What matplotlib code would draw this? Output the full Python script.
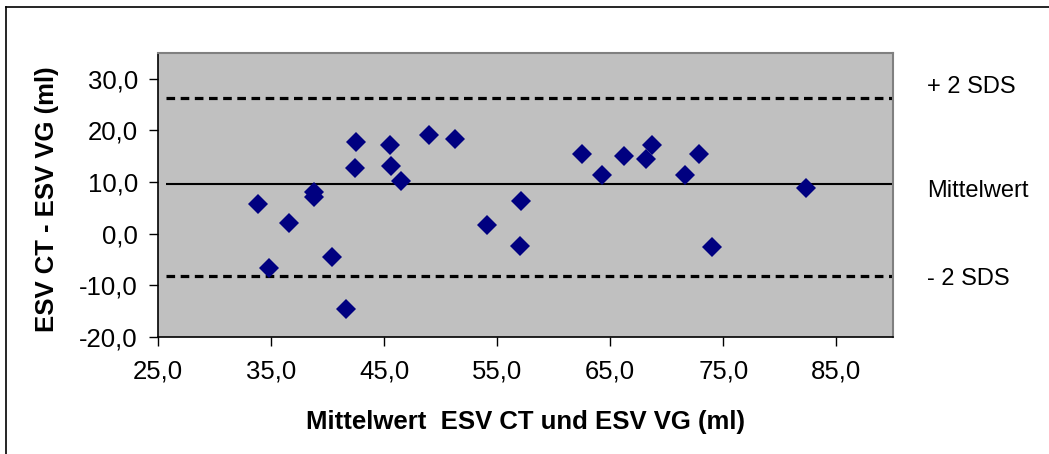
import matplotlib
matplotlib.use("Agg")
import matplotlib.pyplot as plt
from matplotlib.ticker import FuncFormatter
from matplotlib.lines import Line2D

plt.rcParams['font.family'] = ['Liberation Sans', 'DejaVu Sans']
plt.rcParams['lines.scale_dashes'] = False

# Data: mean of ESV CT and ESV VG (x) vs. difference ESV CT - ESV VG (y)
mean_esv = [33.8, 34.8, 36.6, 38.8, 38.8, 40.4, 41.6, 42.5, 42.4, 45.5, 45.6, 46.5,
            49.0, 51.3, 54.1, 57.1, 57.0, 62.5, 64.3, 66.2, 68.2, 68.7, 71.6, 72.8,
            74.0, 82.3]
diff_esv = [5.7, -6.6, 2.0, 8.0, 7.2, -4.6, -14.5, 17.7, 12.7, 17.2, 13.2, 10.2,
            19.1, 18.4, 1.7, 6.4, -2.3, 15.5, 11.4, 15.0, 14.4, 17.2, 11.4, 15.4,
            -2.5, 8.9]

line_x = [25.7, 90.0]
mean_line = [9.6, 9.6]
upper_line = [26.2, 26.2]
lower_line = [-8.2, -8.2]

x_ticks = [25, 35, 45, 55, 65, 75, 85]
y_ticks = [-20, -10, 0, 10, 20, 30]

line_labels = ["+ 2 SDS", "Mittelwert", "- 2 SDS"]
x_label = "Mittelwert  ESV CT und ESV VG (ml)"
y_label = "ESV CT - ESV VG (ml)"

W, H = 1049, 454
fig = plt.figure(figsize=(W / 100, H / 100), dpi=100)
fig.patch.set_facecolor('white')

ax = fig.add_axes([158 / W, 1 - 337 / H, (893 - 158) / W, (337 - 53) / H])
ax.set_facecolor('#C0C0C0')

ax.plot(line_x, upper_line, color='black', lw=2.3, dashes=(6.2, 4.0),
        dash_capstyle='butt', zorder=2)
ax.plot(line_x, lower_line, color='black', lw=2.3, dashes=(6.2, 4.0),
        dash_capstyle='butt', zorder=2)
ax.plot(line_x, mean_line, color='black', lw=1.5, solid_capstyle='butt', zorder=2)

ax.plot(mean_esv, diff_esv, linestyle='none', marker='D', markersize=10.5,
        color='#000080', markeredgewidth=0, zorder=3)

ax.set_xlim(25, 90)
ax.set_ylim(-20, 35)
ax.set_xticks(x_ticks)
ax.set_yticks(y_ticks)

fmt = FuncFormatter(lambda v, p: f"{v:.1f}".replace('.', ','))
ax.xaxis.set_major_formatter(fmt)
ax.yaxis.set_major_formatter(fmt)

ax.tick_params(axis='both', direction='out', length=6.5, width=1, color='black',
               labelsize=18.5, labelcolor='black')
ax.tick_params(axis='x', pad=10)
ax.tick_params(axis='y', pad=8)

for side in ['top', 'right']:
    ax.spines[side].set_color('#808080')
    ax.spines[side].set_linewidth(1.5)
for side in ['left', 'bottom']:
    ax.spines[side].set_color('black')
    ax.spines[side].set_linewidth(1.2)

ax.set_xlabel(x_label, fontsize=18.5, fontweight='bold', va='center')
ax.xaxis.set_label_coords(0.5, -(422 - 337) / (337 - 53))
ax.set_ylabel(y_label, fontsize=18.5, fontweight='bold', va='center')
ax.yaxis.set_label_coords((47 - 158) / (893 - 158), (337 - 199) / (337 - 53))

# Labels to the right of the plot area
label_y_px = [87, 191, 279]
for txt, ypx in zip(line_labels, label_y_px):
    fig.text(927 / W, 1 - ypx / H, txt, fontsize=17, ha='left', va='center')

# Outer chart frame (top and left edges visible)
fig.add_artist(Line2D([6 / W, 1.01], [1 - 7 / H, 1 - 7 / H], transform=fig.transFigure,
                      color='black', lw=1.2))
fig.add_artist(Line2D([6 / W, 6 / W], [-0.01, 1 - 7 / H], transform=fig.transFigure,
                      color='black', lw=1.2))

fig.savefig('out.png', dpi=100, facecolor='white')
